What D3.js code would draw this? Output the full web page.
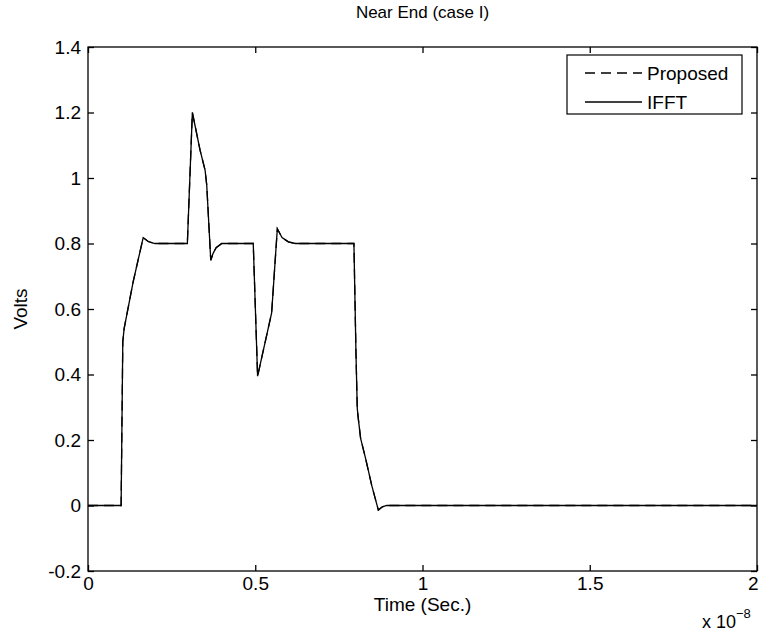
<!DOCTYPE html>
<meta charset="utf-8">
<style>

body {
  margin: 0;
  background: #fff;
}

text {
  font-family: "Liberation Sans", Arial, sans-serif;
  fill: #000;
}

.axis path,
.axis line {
  stroke: #000;
  stroke-width: 1.3px;
}

</style>
<svg width="760" height="634"></svg>
<script src="https://d3js.org/d3.v7.min.js"></script>
<script>

// time in ns, voltage in volts
var timeNs = [0, 0.99, 1.02, 1.04, 1.08, 1.35, 1.65, 1.8, 2.0, 2.97, 3.12, 3.35, 3.50, 3.55, 3.67,
  3.74, 3.83, 4.0, 4.94, 5.07, 5.49, 5.66, 5.8, 5.99, 6.2, 7.95, 8.01, 8.05, 8.08, 8.15, 8.30,
  8.48, 8.68, 8.80, 8.93, 9.5, 20];
var proposed = [0, 0, 0.30, 0.50, 0.54, 0.683, 0.818, 0.806, 0.80, 0.80, 1.20, 1.085, 1.024, 0.978, 0.749,
  0.77, 0.787, 0.80, 0.80, 0.395, 0.588, 0.845, 0.818, 0.805, 0.80, 0.80, 0.47, 0.296, 0.266, 0.205, 0.143,
  0.062, -0.014, -0.004, 0, 0, 0];
var ifft = [0, 0, 0.30, 0.50, 0.54, 0.683, 0.818, 0.806, 0.80, 0.80, 1.20, 1.085, 1.024, 0.978, 0.749,
  0.77, 0.787, 0.80, 0.80, 0.395, 0.588, 0.845, 0.818, 0.805, 0.80, 0.80, 0.47, 0.296, 0.266, 0.205, 0.143,
  0.062, -0.014, -0.004, 0, 0, 0];

var xTicks = [0, 0.5, 1, 1.5, 2];
var yTicks = [-0.2, 0, 0.2, 0.4, 0.6, 0.8, 1, 1.2, 1.4];
var seriesNames = ["Proposed", "IFFT"];

var svg = d3.select("svg"),
    plotL = 88, plotR = 757, plotT = 47, plotB = 571;

var x = d3.scaleLinear().domain([0, 2]).range([plotL, plotR]);
var y = d3.scaleLinear().domain([-0.2, 1.4]).range([plotB, plotT]);

function pts(vals) {
  return timeNs.map(function(t, i) { return [t / 10, vals[i]]; });
}

var line = d3.line()
    .x(function(d) { return x(d[0]); })
    .y(function(d) { return y(d[1]); });

// axes with inward ticks on all four sides
var fmt = function(d) { return String(+d.toFixed(1)); };

svg.append("g").attr("class", "axis")
    .attr("transform", "translate(0," + plotB + ")")
    .call(d3.axisBottom(x).tickValues(xTicks).tickSizeInner(-6).tickSizeOuter(0).tickFormat(fmt))
    .call(function(g) {
      g.selectAll("text").attr("font-size", 19).attr("y", 6).attr("dy", "0.71em");
      g.selectAll(".tick:last-child text").attr("text-anchor", "end").attr("dx", 1);
    });

svg.append("g").attr("class", "axis")
    .attr("transform", "translate(0," + plotT + ")")
    .call(d3.axisTop(x).tickValues(xTicks).tickSizeInner(-6).tickSizeOuter(0).tickFormat(""));

svg.append("g").attr("class", "axis")
    .attr("transform", "translate(" + plotL + ",0)")
    .call(d3.axisLeft(y).tickValues(yTicks).tickSizeInner(-6).tickSizeOuter(0).tickFormat(fmt))
    .call(function(g) { g.selectAll("text").attr("font-size", 19).attr("x", -7); });

svg.append("g").attr("class", "axis")
    .attr("transform", "translate(" + plotR + ",0)")
    .call(d3.axisRight(y).tickValues(yTicks).tickSizeInner(-6).tickSizeOuter(0).tickFormat(""));

svg.selectAll(".axis .domain").remove();

svg.append("rect")
    .attr("x", plotL).attr("y", plotT)
    .attr("width", plotR - plotL).attr("height", plotB - plotT)
    .attr("fill", "none").attr("stroke", "#000").attr("stroke-width", 1.3);

// curves
svg.append("path")
    .datum(pts(ifft))
    .attr("fill", "none").attr("stroke", "#000").attr("stroke-width", 1.3)
    .attr("d", line);

svg.append("path")
    .datum(pts(proposed))
    .attr("fill", "none").attr("stroke", "#000").attr("stroke-width", 1.3)
    .attr("stroke-dasharray", "10,6")
    .attr("d", line);

// labels
svg.append("text")
    .attr("x", (plotL + plotR) / 2).attr("y", 18)
    .attr("text-anchor", "middle").attr("font-size", 17)
    .text("Near End (case I)");

svg.append("text")
    .attr("x", (plotL + plotR) / 2).attr("y", 611)
    .attr("text-anchor", "middle").attr("font-size", 19)
    .text("Time (Sec.)");

svg.append("text")
    .attr("transform", "translate(27," + (plotT + plotB) / 2 + ") rotate(-90)")
    .attr("text-anchor", "middle").attr("font-size", 19)
    .text("Volts");

var expo = svg.append("text")
    .attr("x", 702).attr("y", 628).attr("font-size", 18);
expo.append("tspan").text("x 10");
expo.append("tspan").attr("dy", -10).attr("font-size", 13).text("\u22128");

// legend
var legend = svg.append("g");
legend.append("rect")
    .attr("x", 567).attr("y", 55).attr("width", 175).attr("height", 59)
    .attr("fill", "#fff").attr("stroke", "#000").attr("stroke-width", 1.2);

seriesNames.forEach(function(name, i) {
  var ly = 73 + i * 29;
  legend.append("line")
      .attr("x1", 585).attr("x2", 642).attr("y1", ly).attr("y2", ly)
      .attr("stroke", "#000").attr("stroke-width", 1.3)
      .attr("stroke-dasharray", i === 0 ? "10,6" : null);
  legend.append("text")
      .attr("x", 647).attr("y", ly).attr("dy", "0.35em")
      .attr("font-size", 19)
      .text(name);
});

</script>
